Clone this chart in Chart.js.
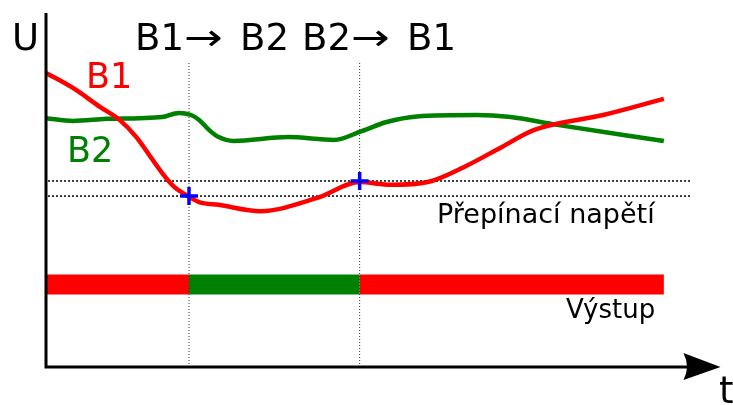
<!DOCTYPE html>
<html>
<head>
<meta charset="utf-8">
<script src="https://cdn.jsdelivr.net/npm/chart.js@4/dist/chart.umd.min.js"></script>
<style>
  html, body { margin: 0; background: #fff; }
</style>
</head>
<body>
<canvas id="chart" width="733" height="405"></canvas>
<script>
// time axis 0..100, voltage axis 0..100 (arbitrary units)
const timeB1 = [0, 4.0, 8.0, 10.9, 13.4, 15.3, 17.2, 19.0, 20.8, 22.7, 25.6, 31.8, 40.1, 46.5, 51.1, 56.6, 62.0, 67.6, 72.3, 82.6, 91.6];
const voltB1 = [83.8, 79.5, 74.1, 70.4, 65.5, 60.4, 55.3, 51.3, 49.0, 47.0, 46.2, 44.4, 48.1, 52.7, 51.9, 52.7, 57.0, 62.7, 67.5, 71.8, 76.4];

const timeB2 = [0, 4.0, 9.0, 13.8, 17.2, 19.7, 21.5, 22.7, 24.2, 25.6, 27.8, 35.9, 42.7, 46.8, 50.5, 55.0, 63.9, 68.9, 75.1, 91.6];
const voltB2 = [70.9, 70.1, 70.7, 70.9, 71.2, 72.4, 71.8, 70.4, 67.5, 65.5, 64.4, 65.5, 64.7, 67.2, 69.8, 71.4, 71.8, 71.2, 69.2, 64.4];

// switching levels (upper: B2 -> B1, lower: B1 -> B2) and switching moments
const switchLevels = [53.0, 48.7];
const switchTimes = [21.2, 46.5];
const switchVolts = [48.7, 53.0];
const levelEnd = 95.7;
const markerTop = 86.9;

// output bar: which sensor is active
const outputLevel = 23.5;
const outputStarts = [0, 21.2, 46.5];
const outputEnds = [21.2, 46.5, 91.6];
const outputState = ['B1', 'B2', 'B1'];

const RED = '#ff0000';
const GREEN = '#008000';
const colorOf = s => s === 'B1' ? RED : GREEN;

const pts = (xs, ys) => xs.map((x, i) => ({ x: x, y: ys[i] }));

const datasets = [];

// blue crosses on top
datasets.push({
  data: pts(switchTimes, switchVolts),
  showLine: false,
  pointStyle: 'cross',
  pointRadius: 9,
  pointBorderWidth: 3.5,
  borderColor: '#0000ff',
  backgroundColor: '#0000ff'
});

datasets.push({
  data: pts(timeB1, voltB1),
  borderColor: RED, borderWidth: 4.5, cubicInterpolationMode: 'monotone', pointRadius: 0, fill: false
});
datasets.push({
  data: pts(timeB2, voltB2),
  borderColor: GREEN, borderWidth: 4.5, cubicInterpolationMode: 'monotone', pointRadius: 0, fill: false
});

switchLevels.forEach(level => {
  datasets.push({
    data: [{ x: 0.3, y: level }, { x: levelEnd, y: level }],
    borderColor: '#000', borderWidth: 1.5, borderDash: [2, 2], pointRadius: 0
  });
});

switchTimes.forEach(t => {
  datasets.push({
    data: [{ x: t, y: 0 }, { x: t, y: markerTop }],
    borderColor: '#333', borderWidth: 1, borderDash: [1, 2], pointRadius: 0
  });
});

outputStarts.forEach((s, i) => {
  datasets.push({
    data: [{ x: s, y: outputLevel }, { x: outputEnds[i], y: outputLevel }],
    borderColor: colorOf(outputState[i]), borderWidth: 20, borderCapStyle: 'butt', pointRadius: 0
  });
});

// arrow glyph a bit wider, like in the original drawing
function wideArrow(ctx, x, y) {
  ctx.save();
  ctx.translate(x, y);
  ctx.scale(1.25, 1);
  ctx.fillText('\u2192', 0, 0);
  ctx.restore();
}

const decorations = {
  id: 'decorations',
  afterDraw(chart) {
    const ctx = chart.ctx;
    const a = chart.chartArea;
    ctx.save();
    // axes
    ctx.strokeStyle = '#000';
    ctx.fillStyle = '#000';
    ctx.lineWidth = 3;
    ctx.beginPath();
    ctx.moveTo(a.left, a.top - 3);
    ctx.lineTo(a.left, a.bottom);
    ctx.lineTo(a.right - 30, a.bottom);
    ctx.stroke();
    // arrow head
    ctx.beginPath();
    ctx.moveTo(a.right, a.bottom);
    ctx.lineTo(a.right - 37, a.bottom - 14);
    ctx.quadraticCurveTo(a.right - 30, a.bottom, a.right - 37, a.bottom + 13);
    ctx.closePath();
    ctx.fill();

    ctx.textBaseline = 'alphabetic';
    ctx.textAlign = 'left';
    ctx.font = '37px "DejaVu Sans"';
    ctx.fillText('U', 12, 50);
    ctx.fillText('t', 719, 403);
    ctx.fillText('B1', 135, 50);
    wideArrow(ctx, 184, 50);
    ctx.fillText('B2', 240, 50);
    ctx.fillText('B2', 302, 50);
    wideArrow(ctx, 351, 50);
    ctx.fillText('B1', 407, 50);

    ctx.font = '35px "DejaVu Sans"';
    ctx.fillStyle = RED;
    ctx.fillText('B1', 86, 88);
    ctx.fillStyle = GREEN;
    ctx.fillText('B2', 67, 162);

    ctx.fillStyle = '#000';
    ctx.font = '27px "DejaVu Sans"';
    ctx.fillText('P\u0159ep\u00ednac\u00ed nap\u011bt\u00ed', 437, 223);
    ctx.font = '26px "DejaVu Sans"';
    ctx.fillText('V\u00fdstup', 566, 318);
    ctx.restore();
  }
};

new Chart(document.getElementById('chart').getContext('2d'), {
  type: 'line',
  data: { datasets: datasets },
  options: {
    responsive: false,
    animation: false,
    layout: { padding: { left: 46, right: 8, top: 16, bottom: 38 } },
    plugins: { legend: { display: false }, tooltip: { enabled: false } },
    scales: {
      x: { type: 'linear', min: 0, max: 100, display: false },
      y: { type: 'linear', min: 0, max: 100, display: false }
    }
  },
  plugins: [decorations]
});
</script>
</body>
</html>
